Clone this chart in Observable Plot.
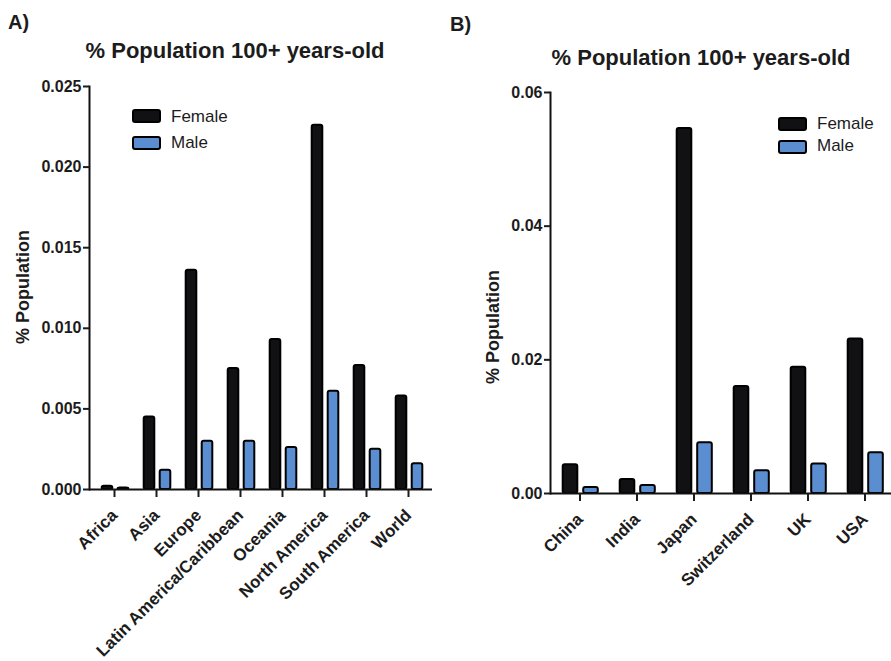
<!DOCTYPE html>
<html><head><meta charset="utf-8">
<script src="https://cdn.jsdelivr.net/npm/d3@7"></script>
<script src="https://cdn.jsdelivr.net/npm/@observablehq/plot@0.6"></script>
<style>
body{margin:0;width:891px;height:661px;position:relative;background:#fff;font-family:"Liberation Sans",Arial,sans-serif;color:#1c1c1c;overflow:hidden}
.title{position:absolute;font-weight:bold;font-size:22px;line-height:1;white-space:nowrap;transform:translateX(-50%)}
.tag{position:absolute;font-weight:bold;font-size:20px;line-height:1}
.ylab{position:absolute;font-weight:bold;font-size:18px;line-height:1;white-space:nowrap;transform:translate(-50%,-50%) rotate(-90deg)}
.leg{position:absolute;font-size:17px;line-height:1;white-space:nowrap}
.sw{position:absolute;width:25px;height:10px;border:2px solid #000;border-radius:3px}
.plot{position:absolute;top:70px}
svg text{font-weight:bold}
</style>
</head><body>
<script>
// Panel A data
const regions = ["Africa","Asia","Europe","Latin America/Caribbean","Oceania","North America","South America","World"];
const femaleA = [0.0002, 0.0045, 0.0136, 0.0075, 0.0093, 0.0226, 0.0077, 0.0058];
const maleA   = [0.0001, 0.0012, 0.0030, 0.0030, 0.0026, 0.0061, 0.0025, 0.0016];
const yTicksA = [0, 0.005, 0.010, 0.015, 0.020, 0.025];

// Panel B data
const countries = ["China","India","Japan","Switzerland","UK","USA"];
const femaleB = [0.0043, 0.0021, 0.0546, 0.0160, 0.0189, 0.0231];
const maleB   = [0.0009, 0.0012, 0.0076, 0.0034, 0.0044, 0.0061];
const yTicksB = [0, 0.02, 0.04, 0.06];

const seriesNames = ["Female","Male"];
const title = "% Population 100+ years-old";
const yLabel = "% Population";

const FEMALE = "#111114", MALE = "#5b8ed1";

function panel({cats, fem, mal, ticks, fmt, left, width, mTop, mBottom, mLeft, mRight, inset, offF, offM}) {
  const table = cats.map((c, i) => ({cat: c, female: fem[i], male: mal[i]}));
  const fig = Plot.plot({
    width, height: 591,
    marginTop: mTop, marginBottom: mBottom, marginLeft: mLeft, marginRight: mRight,
    style: {fontFamily: "Liberation Sans, Arial, sans-serif", fontSize: "15px", color: "#1c1c1c", background: "transparent", overflow: "visible"},
    x: {domain: cats, padding: 0},
    y: {domain: [ticks[0], ticks[ticks.length - 1]]},
    marks: [
      Plot.barY(table, {x: "cat", y: "female", fill: FEMALE, stroke: "#000", strokeWidth: 2, insetLeft: inset, insetRight: inset, dx: offF, rx: 2}),
      Plot.barY(table, {x: "cat", y: "male", fill: MALE, stroke: "#000", strokeWidth: 2, insetLeft: inset, insetRight: inset, dx: offM, rx: 2}),
      Plot.ruleY([0], {strokeWidth: 2, stroke: "#111"}),
      Plot.frame({anchor: "left", strokeWidth: 2, stroke: "#111"}),
      Plot.axisY({ticks, tickFormat: d3.format(fmt), tickSize: 6, tickPadding: 2, fontSize: 16, strokeWidth: 2, label: null}),
      Plot.axisX({tickRotate: -45, tickSize: 8, tickPadding: 15, fontSize: 17, strokeWidth: 2, label: null})
    ]
  });
  fig.classList.add("plot");
  fig.style.left = left + "px";
  document.body.appendChild(fig);
}

panel({cats: regions, fem: femaleA, mal: maleA, ticks: yTicksA, fmt: ".3f", left: 0, width: 445,
       mTop: 16, mBottom: 172, mLeft: 89, mRight: 13, inset: 15.7, offF: -7, offM: 9});
panel({cats: countries, fem: femaleB, mal: maleB, ticks: yTicksB, fmt: ".2f", left: 445, width: 449,
       mTop: 22, mBottom: 168, mLeft: 105, mRight: 0, inset: 21.2, offF: -9.5, offM: 11});

function addDiv(cls, text, css) {
  const d = document.createElement("div");
  d.className = cls; if (text != null) d.textContent = text;
  Object.assign(d.style, css);
  document.body.appendChild(d);
}
addDiv("tag", "A)", {left: "8px", top: "12px"});
addDiv("tag", "B)", {left: "450px", top: "14px"});
addDiv("title", title, {left: "235px", top: "40px"});
addDiv("title", title, {left: "701px", top: "47px"});
addDiv("ylab", yLabel, {left: "23px", top: "287px"});
addDiv("ylab", yLabel, {left: "493px", top: "327px"});
// legends
const legs = [
  {x: 132, ys: [109, 136], ty: [108, 134]},
  {x: 778, ys: [117, 140], ty: [115, 137]}
];
legs.forEach(L => {
  seriesNames.forEach((s, i) => {
    addDiv("sw", null, {left: L.x + "px", top: L.ys[i] + "px", background: i === 0 ? FEMALE : MALE});
    addDiv("leg", s, {left: (L.x + 39) + "px", top: L.ty[i] + "px"});
  });
});
</script>
</body></html>
